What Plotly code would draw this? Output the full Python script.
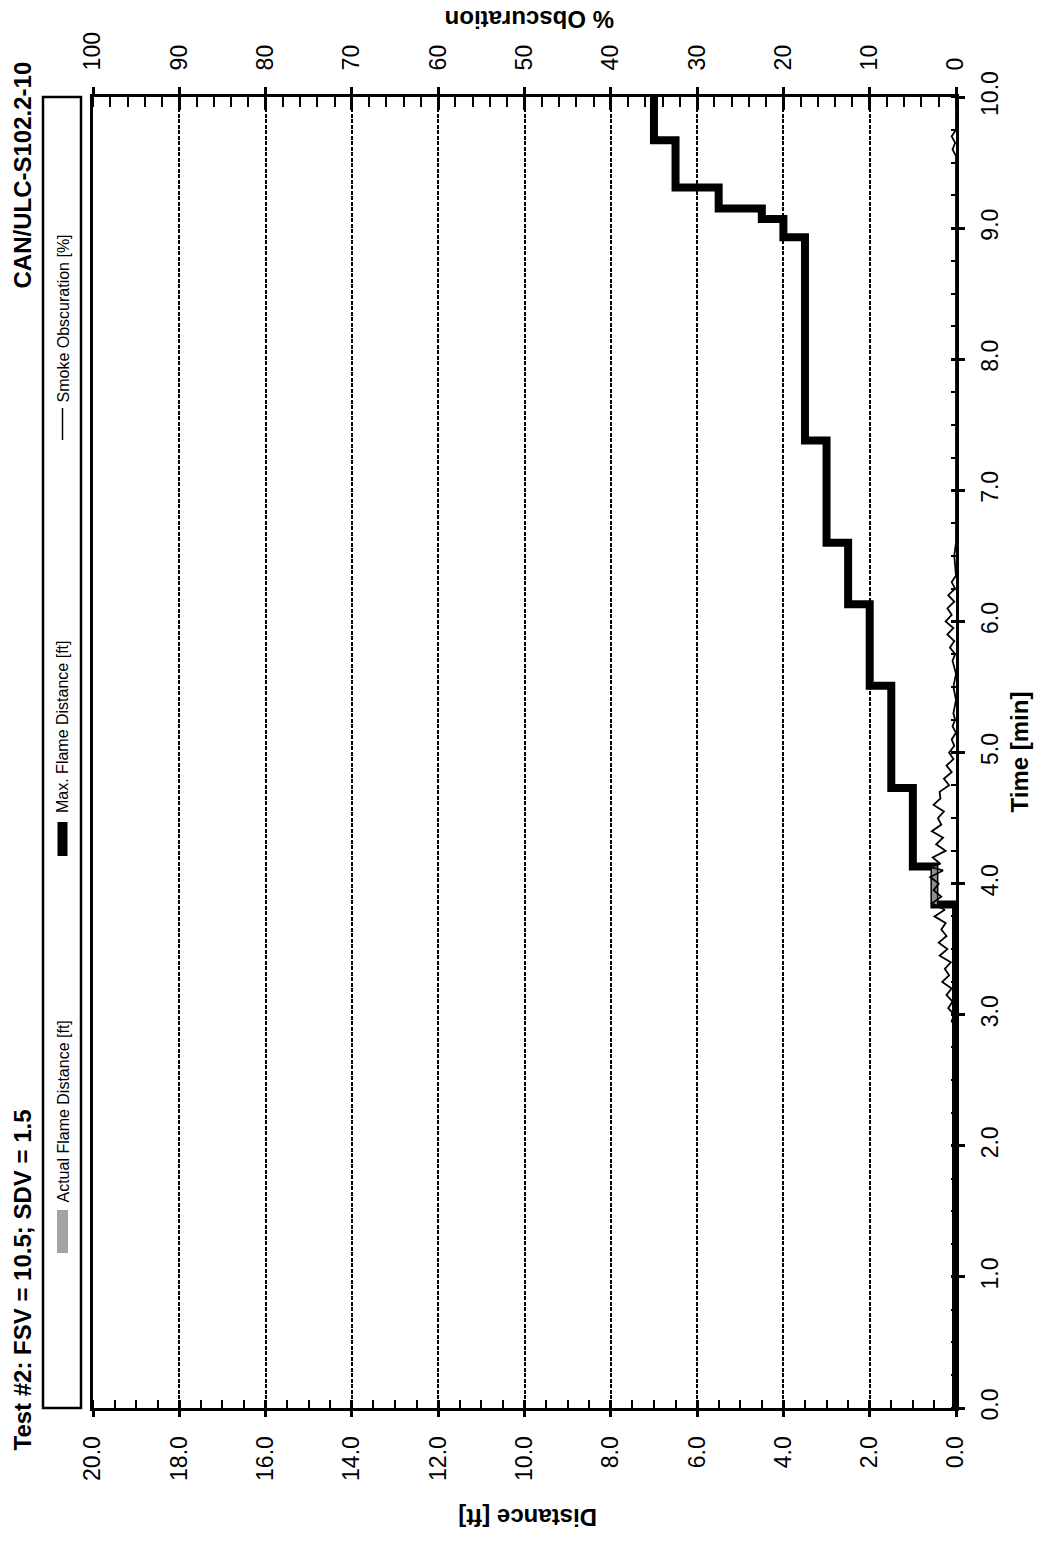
import plotly.graph_objects as go

# ---------------- data ----------------
# Max. flame distance: time of each step [min] and distance reached [ft]
max_t = [0.0, 3.84, 4.13, 4.73, 5.51, 6.13, 6.60, 7.38, 8.93, 9.07, 9.15, 9.31, 9.67, 10.0]
max_d = [0.0, 0.5, 1.0, 1.5, 2.0, 2.5, 3.0, 3.5, 4.0, 4.5, 5.5, 6.5, 7.0, 7.0]

# Actual flame distance (visible only where it differs from the max curve)
act_t = [3.84, 4.13]
act_d = [0.5, 0.5]

# Smoke obscuration [%]
smoke_t = [0.00, 2.80, 2.85, 2.90, 2.95, 3.00, 3.05, 3.10, 3.15, 3.20, 3.25, 3.30, 3.35,
           3.40, 3.45, 3.50, 3.55, 3.60, 3.65, 3.70, 3.75, 3.80, 3.85, 3.90, 3.95,
           4.00, 4.05, 4.10, 4.13, 4.15, 4.20, 4.25, 4.30, 4.35, 4.40, 4.45, 4.50,
           4.55, 4.60, 4.65, 4.70, 4.75, 4.80, 4.85, 4.90, 4.95, 5.00, 5.05, 5.10,
           5.15, 5.20, 5.25, 5.30, 5.40, 5.50, 5.60, 5.70, 5.75, 5.80, 5.85, 5.90,
           5.95, 6.00, 6.05, 6.10, 6.15, 6.20, 6.25, 6.30, 6.35, 6.50, 6.60, 7.00,
           9.55, 9.60, 9.65, 9.70, 9.75, 10.0]
smoke_v = [0.0, 0.0, 0.2, 0.0, 0.5, 0.2, 0.9, 0.4, 1.1, 0.5, 1.6, 0.8, 1.3,
           0.6, 1.9, 1.0, 2.0, 1.1, 1.7, 1.2, 2.5, 1.3, 2.8, 1.7, 2.6,
           2.0, 3.0, 1.5, 3.2, 1.8, 2.7, 1.2, 2.3, 1.5, 2.8, 1.7, 2.1,
           1.4, 2.6, 1.8, 1.9, 0.8, 1.4, 0.5, 1.1, 0.3, 0.8, 0.2, 0.5,
           0.0, 0.4, 0.1, 0.3, 0.0, 0.3, 0.0, 0.4, 0.1, 0.7, 0.2, 1.0,
           0.3, 1.2, 0.5, 1.0, 0.2, 0.9, 0.1, 0.5, 0.0, 0.2, 0.0, 0.0,
           0.0, 0.4, 0.1, 0.5, 0.0, 0.0]

title_left = "Test #2: FSV = 10.5; SDV = 1.5"
title_right = "CAN/ULC-S102.2-10"
legend_labels = ["Actual Flame Distance [ft]", "Max. Flame Distance [ft]", "Smoke Obscuration [%]"]

# ---------------- layout geometry (pixels; page body margin removed below) ----------------
W, H = 1038, 1541
L, R, T, B = 93, 956, 97, 1408          # plot area
def px(x):
    return (x - L) / (R - L)
def py(y):
    return (B - y) / (B - T)

FONT = "Liberation Sans, Arial, sans-serif"

fig = go.Figure()

fig.add_trace(go.Scatter(x=max_d, y=max_t, mode="lines", line=dict(color="black", width=8, shape="vh"),
                         xaxis="x", yaxis="y", showlegend=False, hoverinfo="skip"))
fig.add_trace(go.Scatter(x=act_d, y=act_t, mode="lines", line=dict(color="#8f8f8f", width=5, shape="vh"),
                         xaxis="x", yaxis="y", showlegend=False, hoverinfo="skip"))
fig.add_trace(go.Scatter(x=smoke_v, y=smoke_t, mode="lines", line=dict(color="black", width=1.8),
                         xaxis="x2", yaxis="y", showlegend=False, hoverinfo="skip"))

tickfont = dict(family=FONT, size=23, color="black")

fig.update_layout(
    width=W, height=H,
    margin=dict(l=L, r=W - R, t=T, b=H - B, pad=0),
    paper_bgcolor="white", plot_bgcolor="white",
    xaxis=dict(range=[20, 0], side="bottom", anchor="y",
               dtick=2, tick0=0, tickformat=".1f", tickangle=-90, tickfont=tickfont,
               ticks="outside", ticklen=6, tickwidth=2.5, tickcolor="black",
               ticklabelstandoff=10,
               minor=dict(ticks="inside", ticklen=8, tickwidth=2, dtick=0.5, tick0=0,
                          tickcolor="black", showgrid=False),
               showgrid=True, gridcolor="black", gridwidth=2, griddash="4px,1.5px",
               showline=True, linecolor="black", linewidth=3, zeroline=False),
    xaxis2=dict(range=[100, 0], side="top", overlaying="x", anchor="y",
                dtick=10, tick0=0, tickformat="d", tickangle=-90, tickfont=tickfont,
                ticks="outside", ticklen=7, tickwidth=2.5, tickcolor="black",
                ticklabelstandoff=12,
                minor=dict(ticks="inside", ticklen=10, tickwidth=2, dtick=2, tick0=0,
                           tickcolor="black", showgrid=False),
                showgrid=False, showline=True, linecolor="black", linewidth=3, zeroline=False),
    xaxis3=dict(range=[20, 0], side="bottom", overlaying="x", anchor="y",
                dtick=2, tick0=0, ticks="inside", ticklen=8, tickwidth=2.5, tickcolor="black",
                showticklabels=False, showgrid=False, showline=False, zeroline=False),
    xaxis4=dict(range=[100, 0], side="top", overlaying="x", anchor="y",
                dtick=10, tick0=0, ticks="inside", ticklen=13, tickwidth=2.5, tickcolor="black",
                showticklabels=False, showgrid=False, showline=False, zeroline=False),
    yaxis=dict(range=[0, 10], side="right", anchor="x",
               dtick=1, tick0=0, tickformat=".1f", tickangle=-90, tickfont=tickfont,
               ticks="outside", ticklen=6, tickwidth=2.5, tickcolor="black",
               ticklabelstandoff=5,
               minor=dict(ticks="inside", ticklen=5, tickwidth=2, dtick=0.25, tick0=0,
                          tickcolor="black", showgrid=False),
               showgrid=False, showline=True, linecolor="black", linewidth=3, mirror=True,
               zeroline=False),
    yaxis2=dict(range=[0, 10], side="right", overlaying="y", anchor="x",
                dtick=1, tick0=0, ticks="inside", ticklen=5, tickwidth=2.5, tickcolor="black",
                showticklabels=False, showgrid=False, showline=False, zeroline=False),
    showlegend=False,
)

# empty traces so the overlay tick-only axes get drawn
fig.add_trace(go.Scatter(x=[], y=[], xaxis="x3", yaxis="y", showlegend=False))
fig.add_trace(go.Scatter(x=[], y=[], xaxis="x4", yaxis="y2", showlegend=False))

bold = dict(family=FONT, size=24, color="black")
ann = []
ann.append(dict(text="<b>%s</b>" % title_left, x=px(22), y=py(1453), xref="paper", yref="paper",
                xanchor="center", yanchor="bottom", textangle=-90, showarrow=False, font=bold))
ann.append(dict(text="<b>%s</b>" % title_right, x=px(22), y=py(60), xref="paper", yref="paper",
                xanchor="center", yanchor="top", textangle=-90, showarrow=False, font=bold))
ann.append(dict(text="<b>Time [min]</b>", x=px(1019), y=0.5, xref="paper", yref="paper",
                xanchor="center", yanchor="middle", textangle=-90, showarrow=False, font=bold))
ann.append(dict(text="<b>Distance [ft]</b>", x=px(528), y=py(1518), xref="paper", yref="paper",
                xanchor="center", yanchor="middle", textangle=180, showarrow=False, font=bold))
ann.append(dict(text="<b>% Obscuration</b>", x=px(530), y=py(19), xref="paper", yref="paper",
                xanchor="center", yanchor="middle", textangle=180, showarrow=False, font=bold))

legfont = dict(family=FONT, size=16, color="black")
for label, ybot in zip(legend_labels, [1205, 815, 405]):
    ann.append(dict(text=label, x=px(62.5), y=py(ybot), xref="paper", yref="paper",
                    xanchor="center", yanchor="bottom", textangle=-90, showarrow=False,
                    font=legfont))
fig.update_layout(annotations=ann)

shapes = []
# legend frame
shapes.append(dict(type="rect", xref="paper", yref="paper", x0=px(43), x1=px(81), y0=0, y1=1,
                   line=dict(color="black", width=2.5), fillcolor="rgba(0,0,0,0)"))
# legend swatches
shapes.append(dict(type="rect", xref="paper", yref="paper", x0=px(57), x1=px(68),
                   y0=py(1253), y1=py(1210), line=dict(width=0), fillcolor="#a3a3a3"))
shapes.append(dict(type="line", xref="paper", yref="paper", x0=px(62.5), x1=px(62.5),
                   y0=py(856), y1=py(822), line=dict(color="black", width=10)))
shapes.append(dict(type="line", xref="paper", yref="paper", x0=px(62.5), x1=px(62.5),
                   y0=py(440), y1=py(408), line=dict(color="black", width=1.5)))
fig.update_layout(shapes=shapes)

fig.write_html("out.html",
               config={"displayModeBar": False},
               post_script="document.body.style.margin='0';document.body.style.overflow='hidden';")
